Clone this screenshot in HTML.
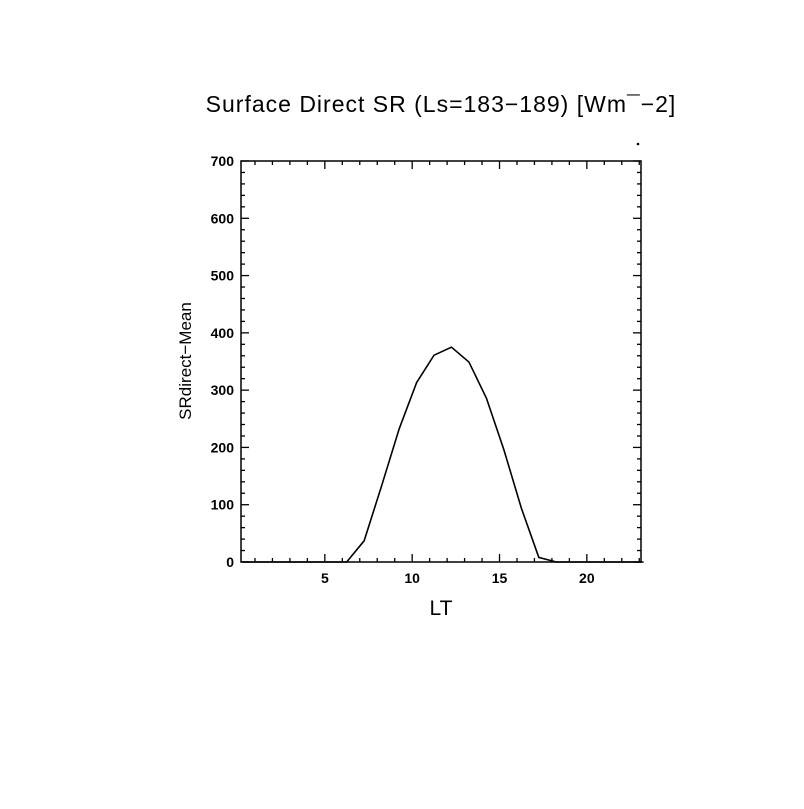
<!DOCTYPE html>
<html><head><meta charset="utf-8"><style>
body{margin:0;background:#fff;}
svg text{font-family:"Liberation Sans",sans-serif;fill:#000;}
</style></head><body>
<svg id="chart" width="804" height="804" xmlns="http://www.w3.org/2000/svg">
<rect width="804" height="804" fill="#fff"/>
<text x="441" y="112" font-size="23" text-anchor="middle" letter-spacing="1">Surface Direct SR (Ls=183−189) [Wm¯−2]</text>
<circle cx="638" cy="144" r="1.3" fill="#000"/>
<text transform="translate(191,361) rotate(-90)" font-size="17" text-anchor="middle">SRdirect−Mean</text>
<text x="441" y="615" font-size="21" text-anchor="middle">LT</text>
<g id="axes"></g>
<g id="marks"></g>
</svg>
<script>
const hours = [0,1,2,3,4,5,6,7,8,9,10,11,12,13,14,15,16,17,18,19,20,21,22,23];
const values = [0,0,0,0,0,0,0,37,133,232,313,361,375,349,286,196,94,8,0,0,0,0,0,0];
const xTicks = [5,10,15,20];
const yTicks = [0,100,200,300,400,500,600,700];
const L=241,R=641,T=161,B=562, XMIN=0.2, XMAX=23.1, YMAX=700, XOFF=0.25;
const sx=v=>L+(v-XMIN)/(XMAX-XMIN)*(R-L);
const sy=v=>B-v/YMAX*(B-T);
const NS="http://www.w3.org/2000/svg";
const axes=document.getElementById('axes'), marks=document.getElementById('marks');
function ln(p,x1,y1,x2,y2,w){const e=document.createElementNS(NS,'line');e.setAttribute('x1',x1);e.setAttribute('y1',y1);e.setAttribute('x2',x2);e.setAttribute('y2',y2);e.setAttribute('stroke','#000');e.setAttribute('stroke-width',w||1.3);p.appendChild(e);return e;}
const frame=document.createElementNS(NS,'rect');
frame.setAttribute('x',L);frame.setAttribute('y',T);frame.setAttribute('width',R-L);frame.setAttribute('height',B-T);
frame.setAttribute('fill','none');frame.setAttribute('stroke','#000');frame.setAttribute('stroke-width','1.5');


axes.appendChild(frame);
for(let v=1;v<=23;v++){const x=sx(v);if(x>R)break;const maj=v%5===0;const len=maj?8:4;
 const t1=ln(axes,x,B,x,B-len);
 const t2=ln(axes,x,T,x,T+len);}
for(let v=0;v<=YMAX;v+=20){const y=sy(v);const maj=v%100===0;const len=maj?8:4;
 const t1=ln(axes,L,y,L+len,y);
 const t2=ln(axes,R,y,R-len,y);}
xTicks.forEach(v=>{const t=document.createElementNS(NS,'text');t.setAttribute('x',sx(v));t.setAttribute('y',B+21);t.setAttribute('font-size','14');t.setAttribute('font-weight','bold');t.setAttribute('text-anchor','middle');t.textContent=v;
 
 
 axes.appendChild(t);});
yTicks.forEach(v=>{const t=document.createElementNS(NS,'text');t.setAttribute('x',L-7);t.setAttribute('y',sy(v)+5);t.setAttribute('font-size','14');t.setAttribute('font-weight','bold');t.setAttribute('text-anchor','end');t.textContent=v;
 
 
 axes.appendChild(t);});
const pl=document.createElementNS(NS,'polyline');
pl.setAttribute('points',hours.map((h,i)=>sx(h+XOFF)+','+sy(values[i])).join(' '));
pl.setAttribute('fill','none');pl.setAttribute('stroke','#000');pl.setAttribute('stroke-width','1.6');


marks.appendChild(pl);
</script>
</body></html>
